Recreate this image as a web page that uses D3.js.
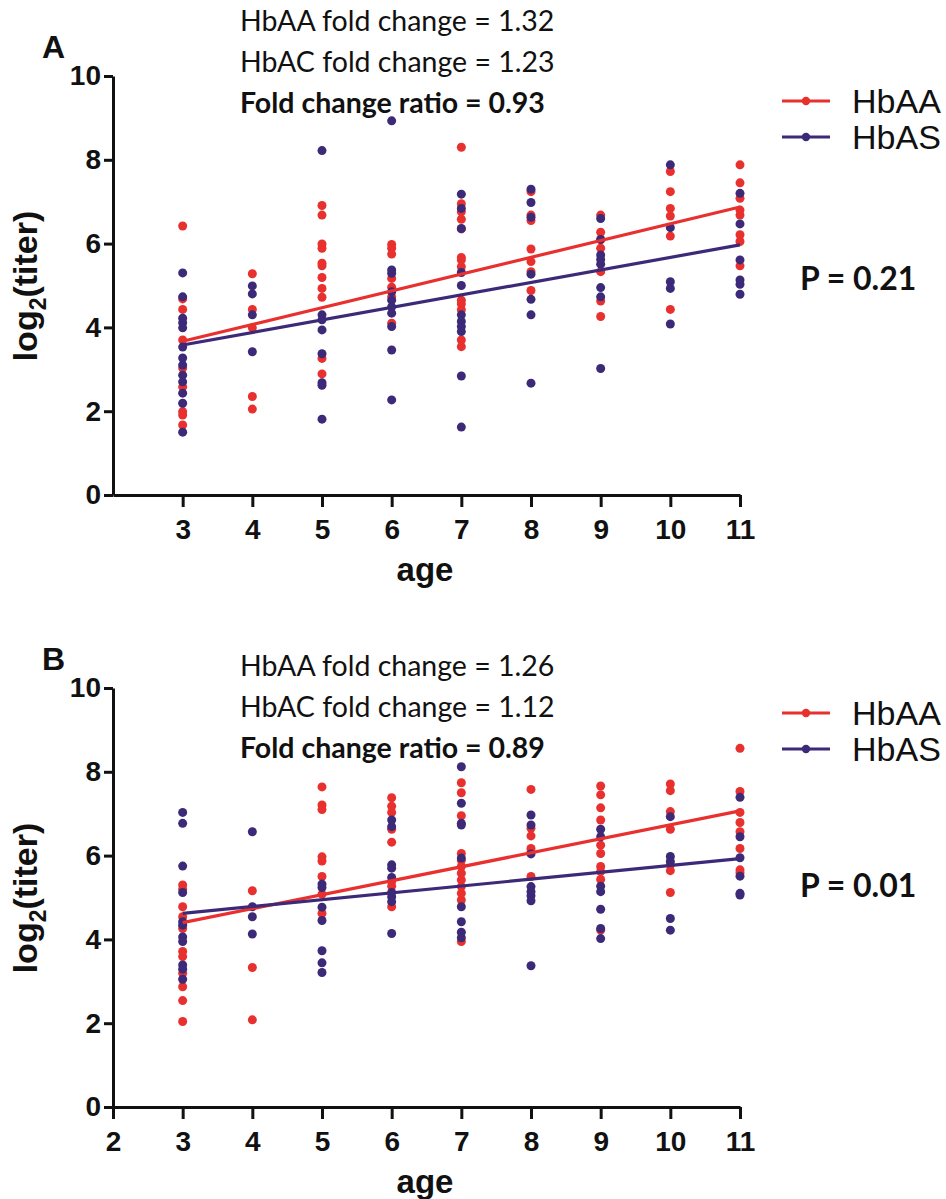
<!DOCTYPE html>
<html>
<head>
<meta charset="utf-8">
<script src="https://cdn.jsdelivr.net/npm/d3@7"></script>
<style>
  body { margin: 0; background: #fff; }
  svg { display: block; }
</style>
</head>
<body>
<svg id="chart" width="946" height="1199"></svg>
<script>
// ---- Data: log2 titer by age, two haemoglobin groups, two panels ----
const seriesNames = ["HbAA", "HbAS"];
const xTicksA = [3, 4, 5, 6, 7, 8, 9, 10, 11];
const xTicksB = [2, 3, 4, 5, 6, 7, 8, 9, 10, 11];
const yTicks = [0, 2, 4, 6, 8, 10];

// Panel A, [age, log2 titer]
const panelA_HbAA = [
  [3,6.42],[3,4.68],[3,4.43],[3,3.70],[3,3.03],[3,2.58],[3,1.99],[3,1.91],[3,1.67],
  [4,5.28],[4,4.43],[4,3.99],[4,2.35],[4,2.05],
  [5,6.91],[5,6.68],[5,5.99],[5,5.89],[5,5.53],[5,5.47],[5,5.19],[5,4.93],[5,4.72],[5,3.26],[5,2.89],
  [6,5.98],[6,5.89],[6,5.75],[6,5.17],[6,4.96],[6,4.73],[6,4.10],
  [7,8.30],[7,6.95],[7,6.76],[7,6.58],[7,6.35],[7,5.67],[7,5.61],[7,5.45],[7,4.65],[7,4.56],[7,4.42],[7,3.70],[7,3.54],
  [8,7.24],[8,6.68],[8,6.55],[8,5.87],[8,5.57],[8,5.33],[8,4.88],
  [9,6.68],[9,6.27],[9,6.09],[9,5.89],[9,5.33],[9,4.63],[9,4.26],
  [10,7.72],[10,7.24],[10,6.84],[10,6.66],[10,6.18],[10,4.43],
  [11,7.88],[11,7.45],[11,7.08],[11,6.80],[11,6.68],[11,6.21],[11,6.05],[11,5.47]
];
const panelA_HbAS = [
  [3,5.30],[3,4.73],[3,4.22],[3,4.11],[3,3.99],[3,3.53],[3,3.27],[3,3.10],[3,2.86],[3,2.70],[3,2.43],[3,2.19],[3,1.50],
  [4,4.99],[4,4.80],[4,4.30],[4,3.42],
  [5,8.22],[5,4.30],[5,4.18],[5,3.94],[5,3.37],[5,2.68],[5,2.62],[5,1.81],
  [6,8.93],[6,5.37],[6,5.29],[6,4.85],[6,4.65],[6,4.49],[6,4.34],[6,4.02],[6,3.46],[6,2.27],
  [7,7.18],[7,6.84],[7,6.36],[7,5.31],[7,5.00],[7,4.30],[7,4.14],[7,4.02],[7,3.90],[7,2.84],[7,1.62],
  [8,7.30],[8,6.98],[8,6.63],[8,5.27],[8,4.67],[8,4.30],[8,2.67],
  [9,6.60],[9,6.10],[9,5.73],[9,5.62],[9,5.51],[9,4.95],[9,4.73],[9,3.02],
  [10,7.88],[10,6.38],[10,5.09],[10,4.93],[10,4.08],
  [11,7.20],[11,6.47],[11,5.61],[11,5.13],[11,5.03],[11,4.79]
];

// Panel B, [age, log2 titer]
const panelB_HbAA = [
  [3,5.30],[3,5.20],[3,4.78],[3,4.54],[3,4.26],[3,3.71],[3,3.59],[3,3.19],[3,2.87],[3,2.54],[3,2.04],
  [4,5.16],[4,3.33],[4,2.08],
  [5,7.64],[5,7.21],[5,7.10],[5,5.97],[5,5.87],[5,5.50],[5,5.08],[5,4.62],
  [6,7.38],[6,7.18],[6,7.03],[6,6.63],[6,6.32],[6,5.38],[6,5.27],[6,4.78],
  [7,7.74],[7,7.50],[7,6.95],[7,6.05],[7,5.89],[7,5.74],[7,5.58],[7,5.42],[7,5.26],[7,5.10],[7,4.94],[7,3.95],
  [8,7.58],[8,6.65],[8,6.47],[8,6.17],[8,6.09],[8,5.50],
  [9,7.66],[9,7.45],[9,7.14],[9,6.85],[9,6.25],[9,6.05],[9,5.74],[9,5.62],[9,5.43],[9,4.22],
  [10,7.71],[10,7.55],[10,7.05],[10,6.63],[10,5.78],[10,5.64],[10,5.12],
  [11,8.56],[11,7.53],[11,7.03],[11,6.79],[11,6.57],[11,6.17],[11,5.66],[11,5.59]
];
const panelB_HbAS = [
  [3,7.03],[3,6.77],[3,5.75],[3,5.12],[3,4.42],[3,4.34],[3,4.06],[3,3.95],[3,3.39],[3,3.29],[3,3.05],
  [4,6.57],[4,4.78],[4,4.54],[4,4.13],
  [5,5.32],[5,5.24],[5,4.77],[5,4.45],[5,3.73],[5,3.44],[5,3.21],
  [6,6.85],[6,6.69],[6,5.78],[6,5.70],[6,5.48],[6,5.12],[6,5.02],[6,4.90],[6,4.14],
  [7,8.12],[7,7.25],[7,6.77],[7,6.73],[7,5.94],[7,4.78],[7,4.42],[7,4.17],[7,4.04],
  [8,6.97],[8,6.73],[8,6.04],[8,5.26],[8,5.14],[8,5.04],[8,4.92],[8,3.37],
  [9,6.63],[9,6.45],[9,5.27],[9,5.14],[9,4.72],[9,4.26],[9,4.02],
  [10,6.93],[10,5.98],[10,5.86],[10,4.50],[10,4.22],
  [11,7.39],[11,6.45],[11,5.95],[11,5.51],[11,5.10],[11,5.06]
];

// Fitted lines: value at age 3 and yearly fold change (slope = log2 of fold change)
const fitStartA = [3.67, 3.58];
const foldChangeA = [1.32, 1.23];
const fitStartB = [4.40, 4.62];
const foldChangeB = [1.26, 1.12];
const fitRange = [3, 11];

const annotationsA = ["HbAA fold change = 1.32", "HbAC fold change = 1.23", "Fold change ratio = 0.93"];
const annotationsB = ["HbAA fold change = 1.26", "HbAC fold change = 1.12", "Fold change ratio = 0.89"];
const pValues = ["P = 0.21", "P = 0.01"];
const panelLabels = ["A", "B"];

// ---- Styling ----
const colors = ["#e8312f", "#3c2a78"];
const axisFont = "'Liberation Sans', Arial, sans-serif";
const noteFont = "Lato, 'Open Sans', sans-serif";

const svg = d3.select("#chart");

function drawPanel(offsetY, cfg) {
  const g = svg.append("g").attr("transform", `translate(0,${offsetY})`);
  const x = d3.scaleLinear().domain([2, 11]).range([113, 740]);
  const y = d3.scaleLinear().domain([0, 10]).range([495, 76]);

  // points
  const series = [cfg.red, cfg.blue];
  series.forEach((pts, i) => {
    g.append("g").selectAll("circle").data(pts).join("circle")
      .attr("cx", d => x(d[0])).attr("cy", d => y(d[1]))
      .attr("r", 4.5).attr("fill", colors[i]);
  });

  // fitted lines
  series.forEach((pts, i) => {
    const slope = Math.log2(cfg.fold[i]);
    const ends = fitRange.map(a => [a, cfg.start[i] + slope * (a - fitRange[0])]);
    g.append("path")
      .attr("d", d3.line().x(d => x(d[0])).y(d => y(d[1]))(ends))
      .attr("stroke", colors[i]).attr("stroke-width", 3.2).attr("fill", "none");
  });

  // axes
  const yAxis = g.append("g").attr("transform", "translate(113,0)")
    .call(d3.axisLeft(y).tickValues(yTicks).tickSize(9).tickSizeOuter(0).tickPadding(3));
  const xAxis = g.append("g").attr("transform", "translate(0,495)")
    .call(d3.axisBottom(x).tickValues(cfg.xTicks).tickSize(12).tickSizeOuter(0).tickPadding(12));
  [yAxis, xAxis].forEach(ax => {
    ax.select(".domain").attr("stroke", "#111").attr("stroke-width", 3);
    ax.selectAll(".tick line").attr("stroke", "#111").attr("stroke-width", 3);
    ax.selectAll(".tick text").attr("fill", "#111")
      .style("font-family", axisFont).style("font-weight", "bold").style("font-size", "28px");
  });

  // axis titles
  const yt = g.append("text")
    .attr("transform", "translate(37,286) rotate(-90)")
    .attr("text-anchor", "middle")
    .style("font-family", axisFont).style("font-weight", "bold").style("font-size", "34px")
    .attr("fill", "#111");
  yt.append("tspan").text("log");
  yt.append("tspan").text("2").attr("dy", 9).style("font-size", "23px");
  yt.append("tspan").text("(titer)").attr("dy", -9);

  g.append("text").attr("x", 425).attr("y", 581).attr("text-anchor", "middle")
    .style("font-family", axisFont).style("font-weight", "bold").style("font-size", "33px")
    .attr("fill", "#111").text("age");

  // panel label
  g.append("text").attr("x", 42).attr("y", 58)
    .style("font-family", axisFont).style("font-weight", "bold").style("font-size", "32px")
    .attr("fill", "#111").text(cfg.label);

  // fold change notes
  cfg.notes.forEach((t, i) => {
    g.append("text").attr("x", 240).attr("y", cfg.notesTop + i * 41)
      .style("font-family", noteFont).style("font-size", "28.5px")
      .style("font-weight", i === 2 ? "bold" : "normal")
      .attr("fill", "#111").text(t);
  });

  // legend
  seriesNames.forEach((name, i) => {
    const ly = 101 + i * 36;
    g.append("line").attr("x1", 782).attr("x2", 830).attr("y1", ly).attr("y2", ly)
      .attr("stroke", colors[i]).attr("stroke-width", 3.2);
    g.append("circle").attr("cx", 806).attr("cy", ly).attr("r", 4.2).attr("fill", colors[i]);
    g.append("text").attr("x", 852).attr("y", ly + 12)
      .style("font-family", axisFont).style("font-size", "34px")
      .attr("fill", "#111").text(name);
  });

  // p value
  g.append("text").attr("x", 800).attr("y", cfg.pY)
    .style("font-family", noteFont).style("font-weight", "bold").style("font-size", "32px")
    .attr("fill", "#111").text(cfg.p);
}

drawPanel(0, { red: panelA_HbAA, blue: panelA_HbAS, start: fitStartA, fold: foldChangeA,
  xTicks: xTicksA, notes: annotationsA, notesTop: 31, p: pValues[0], pY: 290, label: panelLabels[0] });
drawPanel(612, { red: panelB_HbAA, blue: panelB_HbAS, start: fitStartB, fold: foldChangeB,
  xTicks: xTicksB, notes: annotationsB, notesTop: 64, p: pValues[1], pY: 285, label: panelLabels[1] });
</script>
</body>
</html>
